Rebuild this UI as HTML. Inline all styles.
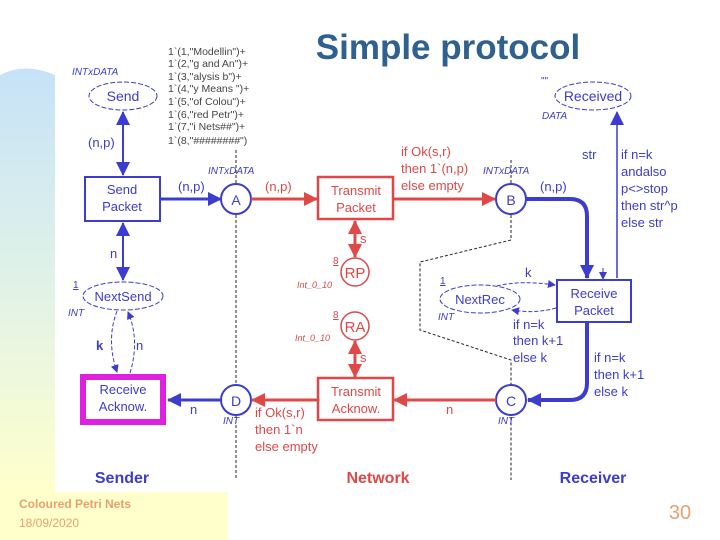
<!DOCTYPE html>
<html lang="en"><head><meta charset="utf-8"><title>Simple protocol</title><style>
html,body{margin:0;padding:0;background:#fff;}
svg{display:block;font-family:"Liberation Sans",sans-serif;}
</style></head><body>
<svg width="720" height="540" viewBox="0 0 720 540" xmlns="http://www.w3.org/2000/svg">
<defs>
<linearGradient id="lg" x1="0" y1="0" x2="0" y2="1">
<stop offset="0" stop-color="#c6e2f8"/><stop offset="0.5" stop-color="#e0f2e8"/><stop offset="1" stop-color="#ffffcc"/>
</linearGradient>
<marker id="ab" markerWidth="8" markerHeight="8" refX="7" refY="4" orient="auto" markerUnits="userSpaceOnUse"><path d="M0,0 L8,4 L0,8z" fill="#3c3cd0"/></marker>
<marker id="abL" markerWidth="14" markerHeight="14" refX="13" refY="7" orient="auto" markerUnits="userSpaceOnUse"><path d="M0,0 L14,7 L0,14z" fill="#3c3cd0"/></marker>
<marker id="abS" markerWidth="14" markerHeight="14" refX="1" refY="7" orient="auto" markerUnits="userSpaceOnUse"><path d="M14,0 L0,7 L14,14z" fill="#3c3cd0"/></marker>
<marker id="ar" markerWidth="14" markerHeight="14" refX="13" refY="7" orient="auto" markerUnits="userSpaceOnUse"><path d="M0,0 L14,7 L0,14z" fill="#e04848"/></marker>
<marker id="arS" markerWidth="14" markerHeight="14" refX="1" refY="7" orient="auto" markerUnits="userSpaceOnUse"><path d="M14,0 L0,7 L14,14z" fill="#e04848"/></marker>
</defs>
<path d="M0,75 Q25,62 55,75 L55,492 L0,492z" fill="url(#lg)"/>
<rect x="0" y="492" width="228" height="48" fill="#ffffcc"/>
<text x="448" y="59" font-size="35" font-weight="bold" fill="#2f6090" text-anchor="middle">Simple protocol</text>

<g fill="none" stroke="#223" stroke-width="1" stroke-dasharray="3,2">
<path d="M236,150 L236,480"/>
<path d="M511,160 L511,240 L420,262 L420,330 L511,360 L511,480"/>
</g>

<g fill="#3c3cd0" font-size="13">
<text x="72" y="75" font-size="10" font-style="italic">INTxDATA</text>
<ellipse cx="123" cy="96" rx="34" ry="14" fill="#fff" stroke="#3c3cd0" stroke-dasharray="5,2"/>
<text x="123" y="101" text-anchor="middle" font-size="14">Send</text>
<g font-size="10.5" fill="#444"><text x="168" y="55">1`(1,"Modellin")+</text><text x="168" y="67">1`(2,"g and An")+</text><text x="168" y="80">1`(3,"alysis b")+</text><text x="168" y="92">1`(4,"y Means ")+</text><text x="168" y="105">1`(5,"of Colou")+</text><text x="168" y="118">1`(6,"red Petr")+</text><text x="168" y="130">1`(7,"i Nets##")+</text><text x="168" y="144">1`(8,"########")</text></g>
<text x="88" y="147">(n,p)</text>
<rect x="85" y="177" width="75" height="44" fill="#fff" stroke="#3c3cd0" stroke-width="2"/>
<text x="122" y="194" text-anchor="middle">Send</text><text x="122" y="211" text-anchor="middle">Packet</text>
<text x="178" y="191">(n,p)</text>
<text x="208" y="174" font-size="10" font-style="italic">INTxDATA</text>
<circle cx="236" cy="199" r="15" fill="#fff" stroke="#3c3cd0" stroke-width="2"/>
<text x="236" y="205" text-anchor="middle" font-size="14">A</text>
<text x="483" y="174" font-size="10" font-style="italic">INTxDATA</text>
<circle cx="511" cy="199" r="15" fill="#fff" stroke="#3c3cd0" stroke-width="2"/>
<text x="511" y="205" text-anchor="middle" font-size="14">B</text>
<text x="540" y="191">(n,p)</text>
<text x="541" y="84" font-size="10">""</text>
<ellipse cx="593" cy="96" rx="38" ry="14" fill="#fff" stroke="#3c3cd0" stroke-dasharray="5,2"/>
<text x="593" y="101" text-anchor="middle" font-size="14">Received</text>
<text x="542" y="119" font-size="10" font-style="italic">DATA</text>
<text x="582" y="159">str</text>
<text x="621" y="159">if n=k</text><text x="621" y="176">andalso</text><text x="621" y="193">p&lt;&gt;stop</text><text x="621" y="210">then str^p</text><text x="621" y="227">else str</text>
<rect x="557" y="280" width="74" height="42" fill="#fff" stroke="#3c3cd0" stroke-width="2"/>
<text x="594" y="298" text-anchor="middle">Receive</text><text x="594" y="315" text-anchor="middle">Packet</text>
<text x="440" y="284" font-size="10" text-decoration="underline">1</text>
<ellipse cx="480" cy="299" rx="40" ry="14" fill="#fff" stroke="#3c3cd0" stroke-dasharray="5,2"/>
<text x="480" y="304" text-anchor="middle">NextRec</text>
<text x="438" y="320" font-size="10" font-style="italic">INT</text>
<text x="525" y="277">k</text>
<text x="513" y="329">if n=k</text><text x="513" y="345">then k+1</text><text x="513" y="362">else k</text>
<text x="594" y="362">if n=k</text><text x="594" y="379">then k+1</text><text x="594" y="396">else k</text>
<circle cx="511" cy="400" r="15" fill="#fff" stroke="#3c3cd0" stroke-width="2"/>
<text x="511" y="406" text-anchor="middle" font-size="14">C</text>
<text x="498" y="424" font-size="10" font-style="italic">INT</text>
<circle cx="236" cy="400" r="15" fill="#fff" stroke="#3c3cd0" stroke-width="2"/>
<text x="236" y="406" text-anchor="middle" font-size="14">D</text>
<text x="223" y="424" font-size="10" font-style="italic">INT</text>
<text x="190" y="414">n</text>
<rect x="83" y="377" width="80" height="45" fill="#fff" stroke="#e020e0" stroke-width="6"/>
<text x="123" y="394" text-anchor="middle">Receive</text><text x="123" y="411" text-anchor="middle">Acknow.</text>
<text x="110" y="258">n</text>
<text x="73" y="288" font-size="10" text-decoration="underline">1</text>
<ellipse cx="123" cy="296" rx="40" ry="14" fill="#fff" stroke="#3c3cd0" stroke-dasharray="5,2"/>
<text x="123" y="301" text-anchor="middle">NextSend</text>
<text x="68" y="316" font-size="10" font-style="italic">INT</text>
<text x="96" y="350" font-weight="bold">k</text><text x="136" y="350">n</text>
<text x="122" y="483" text-anchor="middle" font-size="16" font-weight="bold">Sender</text>
<text x="593" y="483" text-anchor="middle" font-size="16" font-weight="bold">Receiver</text>
</g>

<g fill="none" stroke="#3c3cd0">
<path d="M123,112 L123,175" stroke-width="2" marker-start="url(#abS)" marker-end="url(#abL)"/>
<path d="M123,223 L123,280" stroke-width="2" marker-start="url(#abS)" marker-end="url(#abL)"/>
<path d="M160,199 L221,199" stroke-width="3" marker-end="url(#abL)"/>
<path d="M526,199 L570,199 Q587,199 587,216 L587,278" stroke-width="4" marker-end="url(#abL)"/>
<path d="M587,322 L587,383 Q587,400 570,400 L528,400" stroke-width="4" marker-end="url(#abL)"/>
<path d="M617,278 L617,112" stroke-width="1.5" marker-end="url(#abL)"/>
<path d="M603,268 L603,279" stroke-width="1" marker-end="url(#ab)"/>
<path d="M221,400 L168,400" stroke-width="3" marker-end="url(#abL)"/>
<path d="M117,311 Q106,340 117,372" stroke-dasharray="4,2" marker-end="url(#ab)"/>
<path d="M130,373 Q140,340 128,312" stroke-dasharray="4,2" marker-end="url(#ab)"/>
<path d="M497,286 Q520,280 555,285" stroke-dasharray="4,2" marker-end="url(#ab)"/>
<path d="M556,308 Q535,314 512,310" stroke-dasharray="4,2" marker-end="url(#ab)"/>
</g>

<g fill="#e04848" font-size="13">
<rect x="318" y="177" width="75" height="42" fill="#fff" stroke="#e04848" stroke-width="2.5"/>
<text x="356" y="195" text-anchor="middle">Transmit</text><text x="356" y="212" text-anchor="middle">Packet</text>
<text x="265" y="191">(n,p)</text>
<text x="401" y="156">if Ok(s,r)</text><text x="401" y="173">then 1`(n,p)</text><text x="401" y="190">else empty</text>
<text x="360" y="243">s</text>
<text x="333" y="264" font-size="10" text-decoration="underline">8</text>
<circle cx="355" cy="272" r="14" fill="#fff" stroke="#e04848" stroke-width="1.5"/>
<text x="355" y="278" text-anchor="middle" font-size="15">RP</text>
<text x="297" y="288" font-size="9" font-style="italic">Int_0_10</text>
<text x="333" y="318" font-size="10" text-decoration="underline">8</text>
<circle cx="355" cy="326" r="14" fill="#fff" stroke="#e04848" stroke-width="1.5"/>
<text x="355" y="332" text-anchor="middle" font-size="15">RA</text>
<text x="295" y="341" font-size="9" font-style="italic">Int_0_10</text>
<text x="360" y="362">s</text>
<rect x="318" y="378" width="75" height="42" fill="#fff" stroke="#e04848" stroke-width="2.5"/>
<text x="356" y="396" text-anchor="middle">Transmit</text><text x="356" y="413" text-anchor="middle">Acknow.</text>
<text x="446" y="414">n</text>
<text x="255" y="417">if Ok(s,r)</text><text x="255" y="434">then 1`n</text><text x="255" y="451">else empty</text>
<text x="378" y="483" text-anchor="middle" font-size="16" font-weight="bold">Network</text>
</g>
<g fill="none" stroke="#e04848" stroke-width="3">
<path d="M251,199 L317,199" marker-end="url(#ar)"/>
<path d="M393,199 L495,199" marker-end="url(#ar)"/>
<path d="M355,221 L355,257" marker-start="url(#arS)" marker-end="url(#ar)"/>
<path d="M355,341 L355,377" marker-start="url(#arS)" marker-end="url(#ar)"/>
<path d="M496,400 L394,400" marker-end="url(#ar)"/>
<path d="M318,400 L252,400" marker-end="url(#ar)"/>
</g>

<g fill="#e8a070">
<text x="19" y="508" font-size="12" font-weight="bold">Coloured Petri Nets</text>
<text x="19" y="527" font-size="12">18/09/2020</text>
<text x="680" y="519" font-size="20" text-anchor="middle">30</text>
</g>
</svg>
</body></html>
